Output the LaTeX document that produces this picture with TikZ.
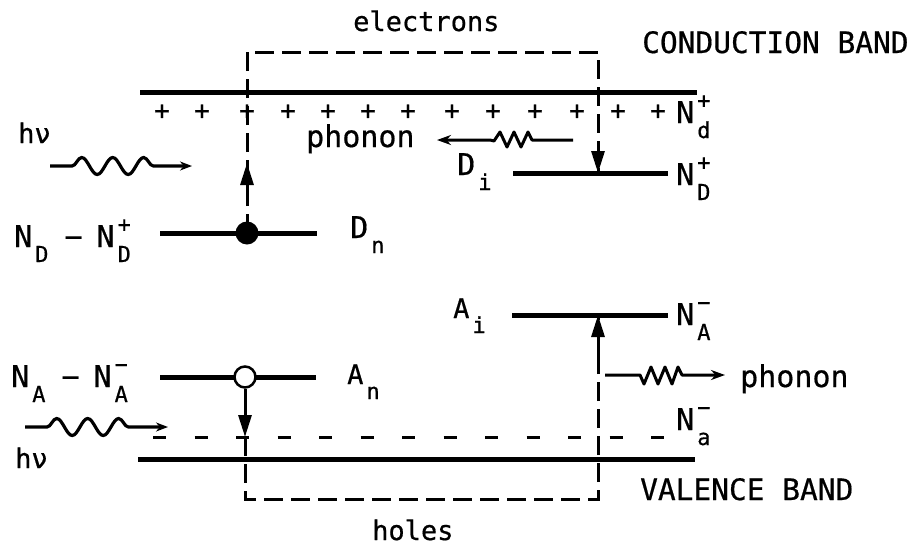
\documentclass[tikz,border=0pt]{standalone}
\usepackage{fontspec}
\setmainfont[FakeBold=0.6]{DejaVu Sans Mono}
\usetikzlibrary{arrows.meta,decorations.pathmorphing}
\newcommand\subsz{\fontsize{22}{24}\selectfont}
\newcommand\lsub[1]{\kern3pt\raisebox{-15pt}{\subsz #1}}
\newcommand\lsupsub[2]{\kern3pt\rlap{\raisebox{15pt}{\subsz #1}}\raisebox{-15pt}{\subsz #2}}
\begin{document}
\begin{tikzpicture}[x=1pt,y=-1pt,
  txt/.style={font=\fontsize{30}{34}\selectfont, inner sep=0, anchor=base west},
  small/.style={txt, font=\fontsize{27}{30}\selectfont},
  bandtxt/.style={txt, font=\fontsize{29.5}{32}\selectfont},
  plus/.style={font=\fontsize{26}{28}\selectfont, inner sep=0},
  lvl/.style={line width=5pt},
  dsh/.style={line width=3pt, dash pattern=on 19pt off 8pt},
  dshlow/.style={line width=3pt, dash pattern=on 13pt off 28.5pt},
  tri/.style={line width=3pt, -{Triangle[length=22pt,width=13pt]}},
  wave/.style={line width=3.2pt, -{Stealth[length=12pt,width=9pt]}, decorate,
     decoration={snake, segment length=31pt, amplitude=8.5pt, pre length=22pt, post length=26pt}},
  phon/.style={line width=3pt, line join=round, -{Stealth[length=14pt,width=10pt]}}]
\useasboundingbox (0,0) rectangle (915,549);

% coordinates
\coordinate (cbL) at (140,92);  \coordinate (cbR) at (697,92);
\coordinate (vbL) at (138,459); \coordinate (vbR) at (695,459);
\coordinate (dnL) at (160,233); \coordinate (dnR) at (317,233);
\coordinate (diL) at (513,173); \coordinate (diR) at (668,173);
\coordinate (aiL) at (512,315); \coordinate (aiR) at (668,315);
\coordinate (anL) at (160,377); \coordinate (anR) at (316,377);
\coordinate (naL) at (153,437); \coordinate (naR) at (665,437);
\coordinate (eTL) at (247,52);  \coordinate (eTR) at (598,52);
\coordinate (di)  at (598,173); \coordinate (ai) at (598,315);
\coordinate (hBL) at (245,499); \coordinate (hBR) at (598,499);
\coordinate (anT) at (245,437);

% bands and levels
\draw[lvl] (cbL) -- (cbR);
\draw[lvl] (vbL) -- (vbR);
\draw[lvl] (dnL) -- (dnR);
\draw[lvl] (diL) -- (diR);
\draw[lvl] (aiL) -- (aiR);
\draw[lvl] (anL) -- (anR);
\draw[dshlow] (naL) -- (naR);

% electron path
\draw[dsh] (247,233) -- (eTL) -- (eTR) -- (di);
\draw[tri] (247,188) -- (247,163);
\draw[tri] (598,146) -- (di);
% hole path
\draw[dsh] (anT) -- (hBL) -- (hBR) -- (ai);
\draw[tri] (598,365) -- (ai);

% circles
\node[circle, fill, minimum size=23pt, inner sep=0] (dn) at (247,233) {};
\node[circle, draw, fill=white, line width=2.5pt, minimum size=21pt, inner sep=0] (an) at (245,377) {};
\draw[tri] (an.south) -- (anT);

% plus signs
\foreach \x in {162,202,247,288,328,368,408,452,493,535,577,618,658}
  \node[plus] at (\x,112) {+};

% photons
\coordinate (hv1a) at (50,166); \coordinate (hv1b) at (192,166);
\coordinate (hv2a) at (25,427); \coordinate (hv2b) at (168,427);
\draw[wave] (hv1a) -- (hv1b);
\draw[wave] (hv2a) -- (hv2b);

% phonons
\draw[phon] (573,140) -- (532,140) -- (528,132) -- (521,147) -- (514,132) -- (507,147) -- (500,132) -- (494,141) -- (490,140) -- (437,140);
\draw[phon] (605,375) -- (640,375) -- (644,384) -- (651,367) -- (658,384) -- (665,367) -- (672,384) -- (678,367) -- (682,375) -- (725,375);

% texts
\node[small] (elec) at (353,31) {electrons};
\node[bandtxt] (cb) at (642,53) {CONDUCTION BAND};
\node[bandtxt] (vb) at (640,500) {VALENCE BAND};
\node[small] (holes) at (372,540) {holes};
\node[txt] (ph1) at (306,147) {phonon};
\node[txt] (ph2) at (740,387) {phonon};
\node[small] (hv1) at (18,143) {hν};
\node[small] (hv2) at (15,468) {hν};

\node[txt] (ldn) at (14,247) {N\lsub{D}\hspace{16pt}−\hspace{14pt}N\lsupsub{+}{D}};
\node[txt] (lDn) at (350,238) {D\lsub{n}};
\node[txt] (lDi) at (457,175) {D\lsub{i}};
\node[txt] (lND) at (676,185) {N\lsupsub{+}{D}};
\node[txt] (lNd) at (676,123) {N\lsupsub{+}{d}};
\node[txt] (lna) at (11,387) {N\lsub{A}\hspace{16pt}−\hspace{14pt}N\lsupsub{−}{A}};
\node[small] (lAn) at (347,384) {A\lsub{n}};
\node[small] (lAi) at (453,318) {A\lsub{i}};
\node[txt] (lNA) at (676,325) {N\lsupsub{−}{A}};
\node[txt] (lNa) at (676,430) {N\lsupsub{−}{a}};
\end{tikzpicture}
\end{document}
